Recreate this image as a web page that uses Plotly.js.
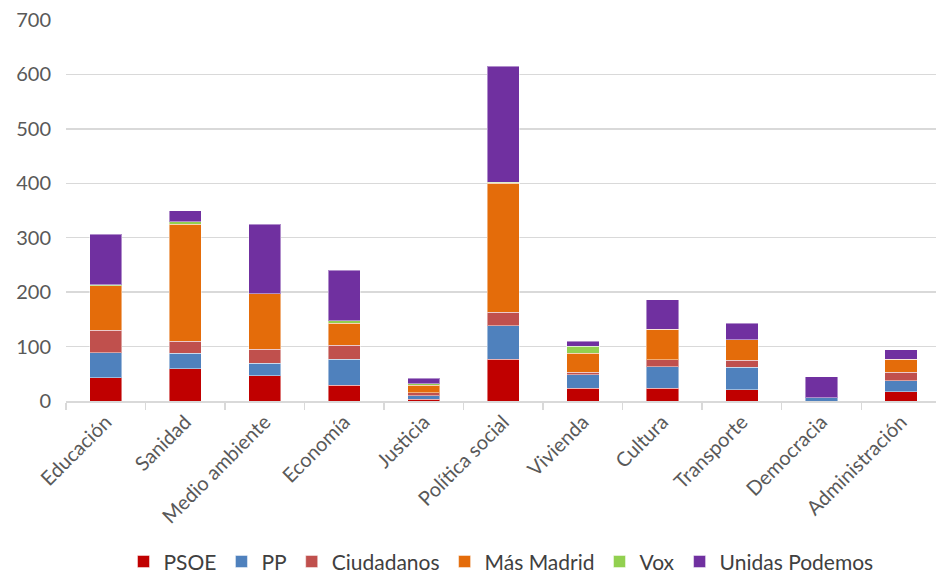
<!DOCTYPE html>
<html>
<head>
<meta charset="utf-8">
<script src="https://cdn.plot.ly/plotly-3.0.1.min.js"></script>
<style>html,body{margin:0;padding:0;background:#fff;}#chart{width:936px;height:585px;}</style>
</head>
<body>
<div id="chart"></div>
<script>
const categories = ["Educación","Sanidad","Medio ambiente","Economía","Justicia","Política social","Vivienda","Cultura","Transporte","Democracia","Administración"];
const psoe       = [43, 59, 46, 29, 3, 77, 23, 23, 21, 0, 17];
const pp         = [46, 29, 23, 48, 7, 61, 25, 40, 41, 6, 20];
const ciudadanos = [41, 22, 26, 25, 5, 25, 5, 13, 13, 0, 16];
const masMadrid  = [82, 215, 102, 41, 14, 237, 35, 56, 38, 0, 24];
const vox        = [2, 4, 0, 4, 3, 2, 13, 0, 0, 0, 0];
const podemos    = [92, 21, 128, 93, 10, 213, 9, 54, 30, 39, 17];
const yTicks = [0,100,200,300,400,500,600,700];

const series = [
  {name:"PSOE", y:psoe, color:"#C00000"},
  {name:"PP", y:pp, color:"#4F81BD"},
  {name:"Ciudadanos", y:ciudadanos, color:"#C0504D"},
  {name:"Más Madrid", y:masMadrid, color:"#E46C0A"},
  {name:"Vox", y:vox, color:"#92D050"},
  {name:"Unidas Podemos", y:podemos, color:"#7030A0"}
];
const traces = series.map(s => ({
  type:"bar", name:s.name, x:categories, y:s.y,
  marker:{color:s.color, line:{color:"rgba(255,255,255,0.45)", width:1}}
}));
const font = {family:"Lato, 'Open Sans', sans-serif", size:20, color:"#595959"};
const layout = {
  width:936, height:585,
  margin:{l:66, r:0, t:20, b:184},
  barmode:"stack", bargap:0.595,
  paper_bgcolor:"#fff", plot_bgcolor:"#fff",
  font:font,
  showlegend:true,
  legend:{orientation:"h", x:0.5, xanchor:"center", y:-0.476, yanchor:"bottom",
          font:{family:font.family, size:21, color:"#404040"}, itemwidth:30, traceorder:"normal"},
  xaxis:{type:"category", range:[-0.5, 10.44], automargin:false, showline:true, linecolor:"#d9d9d9", linewidth:1.5,
         ticks:"outside", tickson:"boundaries", ticklen:7, tickcolor:"#d9d9d9", tickwidth:1.5,
         tickangle:-45, tickfont:{family:font.family, size:20, color:"#595959"}, showgrid:false},
  yaxis:{range:[0,700], automargin:false, tickvals:yTicks, ticktext:yTicks.map(String), showgrid:true, gridcolor:"#d9d9d9", gridwidth:1.5,
         zeroline:false, ticks:"", ticklabelstandoff:14, tickfont:{family:font.family, size:20, color:"#595959"}}
};
Plotly.newPlot("chart", traces, layout, {displayModeBar:false, staticPlot:true});
</script>
</body>
</html>
